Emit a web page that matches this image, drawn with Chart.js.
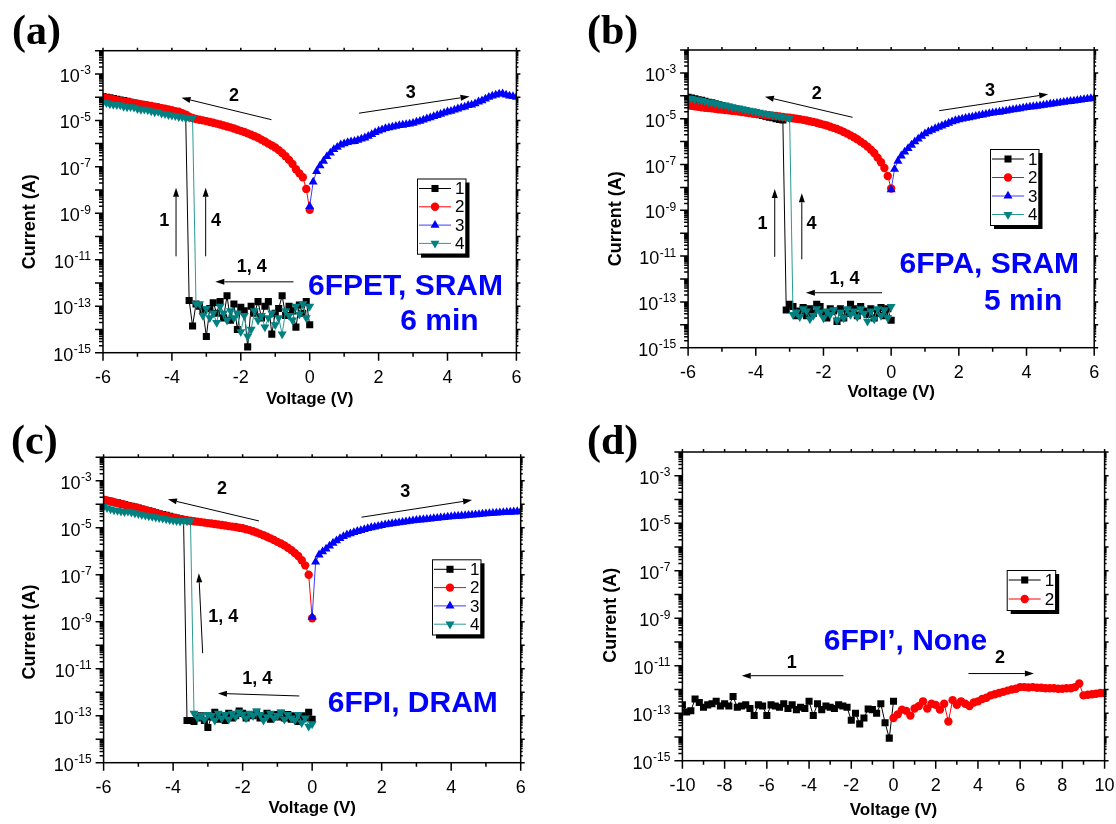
<!DOCTYPE html>
<html>
<head>
<meta charset="utf-8">
<script src="https://cdn.jsdelivr.net/npm/chart.js@4.4.0/dist/chart.umd.min.js"></script>
<style>
    body {margin: 0; background: #ffffff;}
    #wrap {position: relative; width: 1116px; height: 824px; background: #ffffff;}
    canvas {position: absolute;}
</style>
</head>
<body>
<div id="wrap">
    <canvas id="panel_a" width="556" height="410" style="left:0px;top:0px"></canvas>
    <canvas id="panel_b" width="560" height="410" style="left:556px;top:0px"></canvas>
    <canvas id="panel_c" width="556" height="414" style="left:0px;top:410px"></canvas>
    <canvas id="panel_d" width="560" height="414" style="left:556px;top:410px"></canvas>
</div>
<script>
// sweep voltages (V)
const v_down = [0,-0.1,-0.2,-0.3,-0.4,-0.5,-0.6,-0.7,-0.8,-0.9,-1,-1.1,-1.2,-1.3,-1.4,-1.5,-1.6,-1.7,-1.8,-1.9,-2,-2.1,-2.2,-2.3,-2.4,-2.5,-2.6,-2.7,-2.8,-2.9,
    -3,-3.1,-3.2,-3.3,-3.4,-3.5,-3.6,-3.7,-3.8,-3.9,-4,-4.1,-4.2,-4.3,-4.4,-4.5,-4.6,-4.7,-4.8,-4.9,-5,-5.1,-5.2,-5.3,-5.4,-5.5,-5.6,-5.7,-5.8,-5.9,-6];
const v_back = [-6,-5.9,-5.8,-5.7,-5.6,-5.5,-5.4,-5.3,-5.2,-5.1,-5,-4.9,-4.8,-4.7,-4.6,-4.5,-4.4,-4.3,-4.2,-4.1,-4,-3.9,-3.8,-3.7,-3.6,-3.5,-3.4,-3.3,-3.2,-3.1,
    -3,-2.9,-2.8,-2.7,-2.6,-2.5,-2.4,-2.3,-2.2,-2.1,-2,-1.9,-1.8,-1.7,-1.6,-1.5,-1.4,-1.3,-1.2,-1.1,-1,-0.9,-0.8,-0.7,-0.6,-0.5,-0.4,-0.3,-0.2,-0.1,0];
const v_fwd = [0,0.1,0.2,0.3,0.4,0.5,0.6,0.7,0.8,0.9,1,1.1,1.2,1.3,1.4,1.5,1.6,1.7,1.8,1.9,2,2.1,2.2,2.3,2.4,2.5,2.6,2.7,2.8,2.9,
    3,3.1,3.2,3.3,3.4,3.5,3.6,3.7,3.8,3.9,4,4.1,4.2,4.3,4.4,4.5,4.6,4.7,4.8,4.9,5,5.1,5.2,5.3,5.4,5.5,5.6,5.7,5.8,5.9,6];

// all currents below are log10 of current (A)

// (a) 6FPET, SRAM
const a_i1 = [-13.8,-12.8,-13.3,-12.95,-13.9,-13.2,-13.0,-13.4,-12.55,-13.1,-13.3,-14.2,-12.8,-13.0,-13.5,-12.8,-13.3,-13.0,-14.75,-13.2,-13.05,-14.0,-12.9,-13.6,-12.55,-13.5,-12.8,-13.3,-12.85,-13.1,-14.3,-13.2,-13.0,-12.9,-13.85,-12.75,
    -4.78,-4.75,-4.7,-4.66,-4.62,-4.58,-4.54,-4.5,-4.47,-4.44,-4.4,-4.37,-4.34,-4.31,-4.28,-4.25,-4.22,-4.18,-4.15,-4.12,-4.09,-4.06,-4.03,-4.0,-3.97];
const a_i2 = [-4.0,-4.04,-4.07,-4.1,-4.13,-4.16,-4.18,-4.21,-4.23,-4.26,-4.28,-4.31,-4.33,-4.36,-4.38,-4.41,-4.43,-4.47,-4.5,-4.53,
    -4.56,-4.6,-4.63,-4.69,-4.75,-4.84,-4.9,-4.94,-4.97,-5.0,-5.03,-5.07,-5.1,-5.14,-5.18,-5.22,-5.26,-5.3,-5.35,-5.4,
    -5.45,-5.5,-5.56,-5.62,-5.68,-5.75,-5.83,-5.91,-6.0,-6.08,-6.17,-6.28,-6.4,-6.54,-6.7,-6.88,-7.1,-7.28,-7.45,-7.95,-8.85];
const a_i3 = [-8.7,-7.65,-7.2,-6.95,-6.75,-6.55,-6.4,-6.25,-6.15,-6.05,-6.0,-5.95,-5.92,-5.9,-5.85,-5.8,-5.75,-5.68,-5.6,-5.52,
    -5.45,-5.4,-5.35,-5.31,-5.28,-5.25,-5.22,-5.2,-5.17,-5.15,-5.12,-5.07,-5.03,-4.98,-4.93,-4.88,-4.83,-4.78,-4.73,-4.68,
    -4.63,-4.6,-4.55,-4.5,-4.45,-4.42,-4.36,-4.33,-4.28,-4.2,-4.15,-4.08,-4.0,-3.95,-3.9,-3.86,-3.85,-3.9,-3.95,-3.97,-4.0];
const a_i4 = [-13.0,-13.5,-12.9,-13.35,-13.0,-13.6,-13.4,-13.2,-14.2,-13.5,-13.8,-13.3,-13.5,-13.9,-13.4,-13.6,-13.2,-14.0,-14.3,-13.4,-14.1,-13.3,-13.5,-13.2,-13.6,-13.3,-13.0,-13.7,-13.3,-13.5,-13.1,-13.4,-12.9,-12.9,
    -4.9,-4.88,-4.9,-4.86,-4.85,-4.8,-4.78,-4.76,-4.72,-4.7,-4.62,-4.64,-4.6,-4.55,-4.52,-4.53,-4.5,-4.44,-4.42,-4.43,-4.4,-4.34,-4.33,-4.32,-4.3,-4.24,-4.22];

// (b) 6FPA, SRAM
const b_i1 = [-13.8,-13.3,-13.6,-13.25,-13.5,-13.7,-13.3,-13.55,-13.4,-13.2,-13.6,-13.3,-13.1,-13.5,-13.7,-13.3,-13.85,-13.4,-13.3,-13.7,-13.5,-13.2,-13.1,-13.5,-13.3,-13.6,-13.25,-13.4,-13.6,-13.2,-13.1,-13.35,
    -5.06,-5.03,-5.0,-4.96,-4.93,-4.9,-4.86,-4.83,-4.79,-4.76,-4.72,-4.69,-4.65,-4.61,-4.57,-4.54,-4.5,-4.46,-4.42,-4.39,-4.35,-4.31,-4.28,-4.24,-4.2,-4.17,-4.13,-4.1,-4.06];
const b_i2 = [-4.42,-4.44,-4.46,-4.48,-4.5,-4.52,-4.53,-4.55,-4.57,-4.59,-4.6,-4.62,-4.63,-4.65,-4.67,-4.69,-4.71,-4.73,-4.75,-4.77,
    -4.78,-4.8,-4.82,-4.84,-4.85,-4.87,-4.88,-4.9,-4.92,-4.94,-4.96,-4.98,-5.0,-5.02,-5.05,-5.08,-5.11,-5.14,-5.18,-5.22,
    -5.26,-5.3,-5.35,-5.4,-5.45,-5.51,-5.58,-5.65,-5.73,-5.81,-5.9,-6.0,-6.1,-6.22,-6.35,-6.5,-6.7,-6.9,-7.15,-7.5,-8.05];
const b_i3 = [-8.1,-7.2,-6.85,-6.62,-6.45,-6.3,-6.15,-6.0,-5.88,-5.76,-5.65,-5.57,-5.5,-5.43,-5.37,-5.31,-5.25,-5.19,-5.13,-5.08,
    -5.04,-5.01,-4.98,-4.95,-4.92,-4.89,-4.86,-4.83,-4.8,-4.77,-4.75,-4.73,-4.71,-4.68,-4.66,-4.63,-4.61,-4.58,-4.56,-4.53,
    -4.51,-4.49,-4.47,-4.45,-4.43,-4.41,-4.39,-4.36,-4.34,-4.32,-4.3,-4.28,-4.26,-4.24,-4.22,-4.2,-4.18,-4.16,-4.14,-4.12,-4.1];
const b_i4 = [-13.2,-13.7,-13.35,-13.6,-13.3,-13.75,-13.4,-13.85,-13.5,-13.3,-13.65,-13.4,-13.55,-13.3,-13.7,-13.45,-13.8,-13.35,-13.55,-13.4,-13.7,-13.45,-13.3,-13.6,-13.75,-13.4,-13.3,-13.65,-13.45,-13.55,
    -4.98,-4.95,-4.93,-4.9,-4.87,-4.84,-4.81,-4.78,-4.75,-4.72,-4.69,-4.66,-4.63,-4.6,-4.57,-4.54,-4.51,-4.48,-4.45,-4.42,-4.39,-4.36,-4.33,-4.3,-4.27,-4.24,-4.21,-4.18,-4.15,-4.12,-4.1];

// (c) 6FPI, DRAM
const c_i1 = [-13.15,-12.85,-13.1,-13.0,-13.25,-13.0,-13.15,-12.95,-13.1,-12.9,-13.05,-12.95,-13.15,-12.9,-13.0,-13.1,-12.85,-13.0,-12.95,-13.1,-12.9,-12.8,-13.0,-13.1,-12.9,-13.2,-13.0,-13.15,-12.85,-13.05,-13.5,-13.2,-13.0,-13.1,-13.25,-13.2,-13.2,
    -4.65,-4.62,-4.59,-4.55,-4.51,-4.47,-4.44,-4.4,-4.36,-4.32,-4.28,-4.24,-4.2,-4.16,-4.12,-4.08,-4.05,-4.01,-3.98,-3.94,-3.91,-3.87,-3.85,-3.82];
const c_i2 = [-3.8,-3.84,-3.87,-3.91,-3.95,-3.99,-4.02,-4.06,-4.1,-4.13,-4.17,-4.21,-4.25,-4.29,-4.33,-4.38,-4.42,-4.46,-4.5,-4.54,
    -4.57,-4.6,-4.63,-4.66,-4.68,-4.7,-4.72,-4.74,-4.76,-4.78,-4.8,-4.82,-4.84,-4.86,-4.88,-4.9,-4.93,-4.95,-4.97,-5.0,
    -5.02,-5.06,-5.1,-5.15,-5.2,-5.26,-5.32,-5.38,-5.45,-5.52,-5.6,-5.67,-5.75,-5.85,-5.95,-6.07,-6.2,-6.38,-6.6,-7.0,-8.85];
const c_i3 = [-8.8,-6.45,-6.15,-6.02,-5.9,-5.77,-5.65,-5.55,-5.45,-5.37,-5.3,-5.25,-5.2,-5.15,-5.11,-5.07,-5.03,-4.99,-4.96,-4.93,
    -4.9,-4.87,-4.85,-4.82,-4.8,-4.78,-4.76,-4.74,-4.72,-4.7,-4.68,-4.66,-4.65,-4.63,-4.62,-4.6,-4.59,-4.57,-4.56,-4.54,
    -4.53,-4.51,-4.5,-4.49,-4.48,-4.46,-4.45,-4.44,-4.43,-4.41,-4.4,-4.39,-4.38,-4.37,-4.36,-4.35,-4.34,-4.33,-4.32,-4.31,-4.31];
const c_i4 = [-13.35,-13.45,-13.1,-13.3,-12.95,-13.2,-13.1,-12.95,-13.15,-12.85,-13.0,-13.1,-12.9,-13.05,-13.2,-12.95,-12.8,-13.0,-12.9,-13.1,-12.95,-12.85,-13.05,-12.9,-13.15,-12.95,-13.1,-12.9,-13.2,-13.0,-12.95,-13.15,-13.0,-13.1,-12.9,
    -4.72,-4.71,-4.7,-4.72,-4.7,-4.68,-4.66,-4.63,-4.6,-4.58,-4.55,-4.52,-4.5,-4.47,-4.45,-4.41,-4.38,-4.34,-4.3,-4.32,-4.3,-4.27,-4.25,-4.2,-4.15,-4.1];

// (d) 6FPI', None
const d_v1 = [0,-0.2,-0.4,-0.6,-0.8,-1,-1.2,-1.4,-1.6,-1.8,-2,-2.2,-2.4,-2.6,-2.8,-3,-3.2,-3.4,-3.6,-3.8,-4,-4.2,-4.4,-4.6,-4.8,-5,
    -5.2,-5.4,-5.6,-5.8,-6,-6.2,-6.4,-6.6,-6.8,-7,-7.2,-7.4,-7.6,-7.8,-8,-8.2,-8.4,-8.6,-8.8,-9,-9.2,-9.4,-9.6,-9.8,-10];
const d_i1 = [-12.5,-14.05,-13.4,-12.6,-13.0,-12.85,-12.82,-13.2,-13.45,-13.0,-13.3,-12.75,-12.7,-12.65,-12.8,-12.75,-12.7,-12.85,-12.6,-13.1,-12.5,-12.8,-12.75,-12.85,-12.65,-12.8,
    -12.6,-12.75,-12.7,-12.65,-13.1,-12.7,-12.65,-13.1,-12.8,-12.65,-12.7,-12.75,-12.3,-12.7,-12.6,-12.7,-12.5,-12.6,-12.65,-12.75,-12.55,-12.4,-12.9,-12.95,-12.65];
const d_v2 = [0,0.2,0.4,0.6,0.8,1,1.2,1.4,1.6,1.8,2,2.2,2.4,2.6,2.8,3,3.2,3.4,3.6,3.8,4,4.2,4.4,4.6,4.8,5,
    5.2,5.4,5.6,5.8,6,6.2,6.4,6.6,6.8,7,7.2,7.4,7.6,7.8,8,8.2,8.4,8.6,8.8,9,9.2,9.4,9.6,9.8,10];
const d_i2 = [-13.2,-13.05,-12.85,-12.9,-13.1,-12.8,-12.7,-12.5,-12.8,-12.6,-12.65,-12.85,-12.6,-13.35,-12.45,-12.65,-12.5,-12.6,-12.7,-12.55,-12.5,-12.4,-12.35,-12.25,-12.2,-12.15,
    -12.1,-12.05,-12.0,-11.97,-11.9,-11.9,-11.92,-11.9,-11.93,-11.93,-11.95,-11.95,-11.95,-11.97,-11.97,-11.95,-11.95,-11.9,-11.75,-12.25,-12.22,-12.2,-12.18,-12.15,-12.15];

const SANS = '"Liberation Sans", Arial, sans-serif';
const SERIF = '"Liberation Serif", "Times New Roman", serif';

const marks = {
    1: {color: '#000000', line: '#000000', style: 'rect', radius: 5, rotation: 0},
    2: {color: '#ff0000', line: '#ff0000', style: 'circle', radius: 4.2, rotation: 0},
    3: {color: '#0000ff', line: '#3c3cff', style: 'triangle', radius: 5.2, rotation: 0},
    4: {color: '#008080', line: '#2a9a94', style: 'triangle', radius: 5.2, rotation: 180}
};

function make_dataset(n, volts, logs) {
    const m = marks[n];
    return {
        label: String(n),
        data: volts.map((v, i) => ({x: v, y: Math.pow(10, logs[i])})),
        showLine: true,
        borderColor: m.line,
        borderWidth: 1,
        pointStyle: m.style,
        pointRadius: m.radius,
        pointRotation: m.rotation,
        pointBackgroundColor: m.color,
        pointBorderWidth: 0,
        order: 5 - n
    };
}

function draw_arrow(ctx, x1, y1, x2, y2) {
    const ang = Math.atan2(y2 - y1, x2 - x1);
    const len = 9, half = 3;
    const bx = x2 - Math.cos(ang) * len, by = y2 - Math.sin(ang) * len;
    ctx.beginPath();
    ctx.moveTo(x1, y1);
    ctx.lineTo(bx, by);
    ctx.stroke();
    ctx.beginPath();
    ctx.moveTo(x2, y2);
    ctx.lineTo(bx - Math.sin(ang) * half, by + Math.cos(ang) * half);
    ctx.lineTo(bx + Math.sin(ang) * half, by - Math.cos(ang) * half);
    ctx.closePath();
    ctx.fill();
}

function decor_plugin(panel) {
    return {
        id: 'decor_' + panel.canvas,
        afterDraw(chart) {
            const ctx = chart.ctx;
            const area = chart.chartArea;
            const xs = chart.scales.x, ys = chart.scales.y;
            const px = v => xs.getPixelForValue(v);
            const py = e => ys.getPixelForValue(Math.pow(10, e));

            ctx.save();
            ctx.strokeStyle = '#000';
            ctx.fillStyle = '#000';

            // frame
            ctx.lineWidth = 1.5;
            ctx.strokeRect(area.left, area.top, area.right - area.left, area.bottom - area.top);

            // ticks
            ctx.beginPath();
            for (let v = panel.x_min; v <= panel.x_max; v++) {
                const x = px(v);
                const len = (v - panel.x_min) % 2 === 0 ? 8 : 4;
                ctx.moveTo(x, area.bottom);
                ctx.lineTo(x, area.bottom + len);
                ctx.moveTo(x, area.top);
                ctx.lineTo(x, area.top - 3);
            }
            for (let e = -15; e <= -2; e++) {
                const y = py(e);
                ctx.moveTo(area.left, y);
                ctx.lineTo(area.left - 8, y);
                ctx.moveTo(area.right, y);
                ctx.lineTo(area.right + 4, y);
                if (e === -2) {continue;}
                for (let k = 2; k <= 9; k++) {
                    const ym = ys.getPixelForValue(k * Math.pow(10, e));
                    ctx.moveTo(area.left, ym);
                    ctx.lineTo(area.left - 4, ym);
                    ctx.moveTo(area.right, ym);
                    ctx.lineTo(area.right + 2, ym);
                }
            }
            ctx.stroke();

            // y tick labels 10^n
            ctx.textAlign = 'left';
            ctx.textBaseline = 'alphabetic';
            for (let e = -15; e <= -3; e += 2) {
                const y = py(e);
                const exp = String(e);
                const right = area.left - 12;
                ctx.font = '12px ' + SANS;
                const w2 = ctx.measureText(exp).width;
                ctx.fillText(exp, right - w2, y + 0.5);
                ctx.font = '18px ' + SANS;
                const w1 = ctx.measureText('10').width;
                ctx.fillText('10', right - w2 - w1 - 0.5, y + 8);
            }

            // y axis title
            ctx.save();
            ctx.translate(panel.y_title_x, (area.top + area.bottom) / 2 + panel.y_title_shift);
            ctx.rotate(-Math.PI / 2);
            ctx.font = 'bold 18px ' + SANS;
            ctx.textAlign = 'center';
            ctx.textBaseline = 'middle';
            ctx.fillText('Current (A)', 0, 0);
            ctx.restore();

            // panel letter
            ctx.font = 'bold 42px ' + SERIF;
            ctx.textAlign = 'left';
            ctx.textBaseline = 'alphabetic';
            ctx.fillText(panel.letter, panel.letter_pos[0], panel.letter_pos[1]);

            // sweep numbers and arrows
            ctx.font = 'bold 18px ' + SANS;
            ctx.textAlign = 'center';
            ctx.textBaseline = 'middle';
            for (const lab of panel.labels) {
                ctx.fillText(lab[0], px(lab[1]), py(lab[2]));
            }
            ctx.lineWidth = 1;
            for (const arr of panel.arrows) {
                draw_arrow(ctx, px(arr[0]), py(arr[1]), px(arr[2]), py(arr[3]));
            }

            // blue sample names
            ctx.fillStyle = '#0000ff';
            ctx.font = 'bold 30px ' + SANS;
            ctx.textAlign = 'left';
            ctx.textBaseline = 'alphabetic';
            for (const t of panel.names) {
                ctx.fillText(t[0], px(t[1]), py(t[2]));
            }

            // legend with shadow
            const lg = panel.legend;
            const w = 48.5, h = lg.rows.length * lg.pitch + 2;
            ctx.fillStyle = '#000';
            ctx.fillRect(lg.x + 4, lg.y + 4, w, h);
            ctx.fillStyle = '#fff';
            ctx.fillRect(lg.x, lg.y, w, h);
            ctx.lineWidth = 1;
            ctx.strokeStyle = '#000';
            ctx.strokeRect(lg.x + 0.5, lg.y + 0.5, w, h);
            ctx.font = '17px ' + SANS;
            ctx.textBaseline = 'middle';
            lg.rows.forEach((n, i) => {
                const m = marks[n];
                const y = lg.y + 10 + i * lg.pitch;
                ctx.strokeStyle = m.line;
                ctx.beginPath();
                ctx.moveTo(lg.x + 2, y);
                ctx.lineTo(lg.x + 34, y);
                ctx.stroke();
                ctx.fillStyle = m.color;
                Chart.helpers.drawPoint(ctx, {pointStyle: m.style, radius: m.radius, rotation: m.rotation, borderWidth: 0}, lg.x + 18, y);
                ctx.fillStyle = '#000';
                ctx.fillText(String(n), lg.x + 38, y + 1);
            });

            ctx.restore();
        }
    };
}

const panels = [
    {
        canvas: 'panel_a', w: 556, h: 410, left: 103, top: 50.7, right: 516.4, bottom: 352.7,
        x_min: -6, x_max: 6, x_title_pad: 0, y_title_x: 30, y_title_shift: 20,
        letter: '(a)', letter_pos: [12, 44],
        datasets: [make_dataset(1, v_down, a_i1), make_dataset(2, v_back, a_i2), make_dataset(3, v_fwd, a_i3), make_dataset(4, v_down, a_i4)],
        labels: [['2', -2.2, -3.93], ['3', 2.93, -3.83], ['1', -4.22, -9.33], ['4', -2.72, -9.33], ['1, 4', -1.68, -11.31]],
        arrows: [[-1.11, -4.97, -3.72, -4.03], [1.43, -4.69, 4.64, -3.97], [-3.88, -10.85, -3.88, -7.9], [-3.02, -10.85, -3.02, -7.9], [-0.47, -11.95, -2.74, -11.95]],
        names: [['6FPET, SRAM', -0.05, -12.52], ['6 min', 2.63, -14.03]],
        legend: {x: 417, y: 178.5, pitch: 18.3, rows: [1, 2, 3, 4]}
    },
    {
        canvas: 'panel_b', w: 560, h: 410, left: 132.1, top: 50, right: 538.2, bottom: 347.7,
        x_min: -6, x_max: 6, x_title_pad: 7, y_title_x: 60, y_title_shift: 20,
        letter: '(b)', letter_pos: [31, 44],
        datasets: [make_dataset(1, v_down, b_i1), make_dataset(2, v_back, b_i2), make_dataset(3, v_fwd, b_i3), make_dataset(4, v_down, b_i4)],
        labels: [['2', -2.2, -3.92], ['3', 2.92, -3.78], ['1', -3.8, -9.6], ['4', -2.35, -9.6], ['1, 4', -1.38, -12.01]],
        arrows: [[-1.14, -4.94, -3.73, -4.04], [1.42, -4.65, 4.64, -3.93], [-3.44, -11.03, -3.44, -8.07], [-2.64, -11.14, -2.64, -8.26], [-0.27, -12.6, -2.52, -12.6]],
        names: [['6FPA, SRAM', 0.25, -11.75], ['5 min', 2.74, -13.35]],
        legend: {x: 434, y: 149, pitch: 18.5, rows: [1, 2, 3, 4]}
    },
    {
        canvas: 'panel_c', w: 556, h: 414, left: 103.6, top: 47.3, right: 520.7, bottom: 352.7,
        x_min: -6, x_max: 6, x_title_pad: 5, y_title_x: 30, y_title_shift: 22,
        letter: '(c)', letter_pos: [11, 44],
        datasets: [make_dataset(1, v_down, c_i1), make_dataset(2, v_back, c_i2), make_dataset(3, v_fwd, c_i3), make_dataset(4, v_down, c_i4)],
        labels: [['2', -2.59, -3.35], ['3', 2.68, -3.46], ['1, 4', -2.56, -8.81], ['1, 4', -1.58, -11.45]],
        arrows: [[-1.53, -4.71, -4.15, -3.79], [1.42, -4.55, 4.6, -3.82], [-3.15, -10.34, -3.26, -6.94], [-0.37, -12.16, -2.71, -12.05]],
        names: [['6FPI, DRAM', 0.45, -12.83]],
        legend: {x: 432, y: 149.3, pitch: 18.3, rows: [1, 2, 3, 4]}
    },
    {
        canvas: 'panel_d', w: 560, h: 414, left: 126.4, top: 42, right: 548.6, bottom: 350.7,
        x_min: -10, x_max: 10, x_title_pad: 3, y_title_x: 55, y_title_shift: 9,
        letter: '(d)', letter_pos: [31, 44],
        datasets: [make_dataset(1, d_v1, d_i1), make_dataset(2, d_v2, d_i2)],
        labels: [['1', -4.82, -10.9], ['2', 5.04, -10.69]],
        arrows: [[-2.37, -11.42, -7.19, -11.42], [3.55, -11.33, 6.65, -11.33]],
        names: [['6FPI\u2019, None', -3.30, -10.34]],
        legend: {x: 450.7, y: 160, pitch: 19, rows: [1, 2]}
    }
];

for (const panel of panels) {
    let config = {
        type: 'scatter',
        data: {datasets: panel.datasets},
        options: {
            responsive: false,
            animation: false,
            devicePixelRatio: 1,
            events: [],
            layout: {
                padding: {left: 0, top: panel.top, right: panel.w - panel.right, bottom: 0}
            },
            plugins: {
                legend: {display: false},
                tooltip: {enabled: false}
            },
            scales: {
                x: {
                    type: 'linear',
                    min: panel.x_min,
                    max: panel.x_max,
                    border: {display: false},
                    grid: {display: false, drawTicks: false},
                    ticks: {
                        stepSize: 2,
                        autoSkip: false,
                        maxRotation: 0,
                        color: '#000',
                        padding: 15,
                        font: {size: 18, family: SANS},
                        callback: v => String(v)
                    },
                    title: {
                        display: true,
                        text: 'Voltage (V)',
                        color: '#000',
                        font: {size: 17, weight: 'bold', family: SANS},
                        padding: {top: 0, bottom: panel.x_title_pad}
                    },
                    afterFit: s => {
                        s.height = panel.h - panel.bottom;
                        s.paddingLeft = 0;
                        s.paddingRight = 0;
                    }
                },
                y: {
                    type: 'logarithmic',
                    min: 1e-15,
                    max: 1e-2,
                    border: {display: false},
                    grid: {display: false, drawTicks: false},
                    ticks: {display: false},
                    afterFit: s => {
                        s.width = panel.left;
                        s.paddingTop = 0;
                        s.paddingBottom = 0;
                    }
                }
            }
        },
        plugins: [decor_plugin(panel)]
    };

    new Chart(document.getElementById(panel.canvas), config);
}
</script>
</body>
</html>
